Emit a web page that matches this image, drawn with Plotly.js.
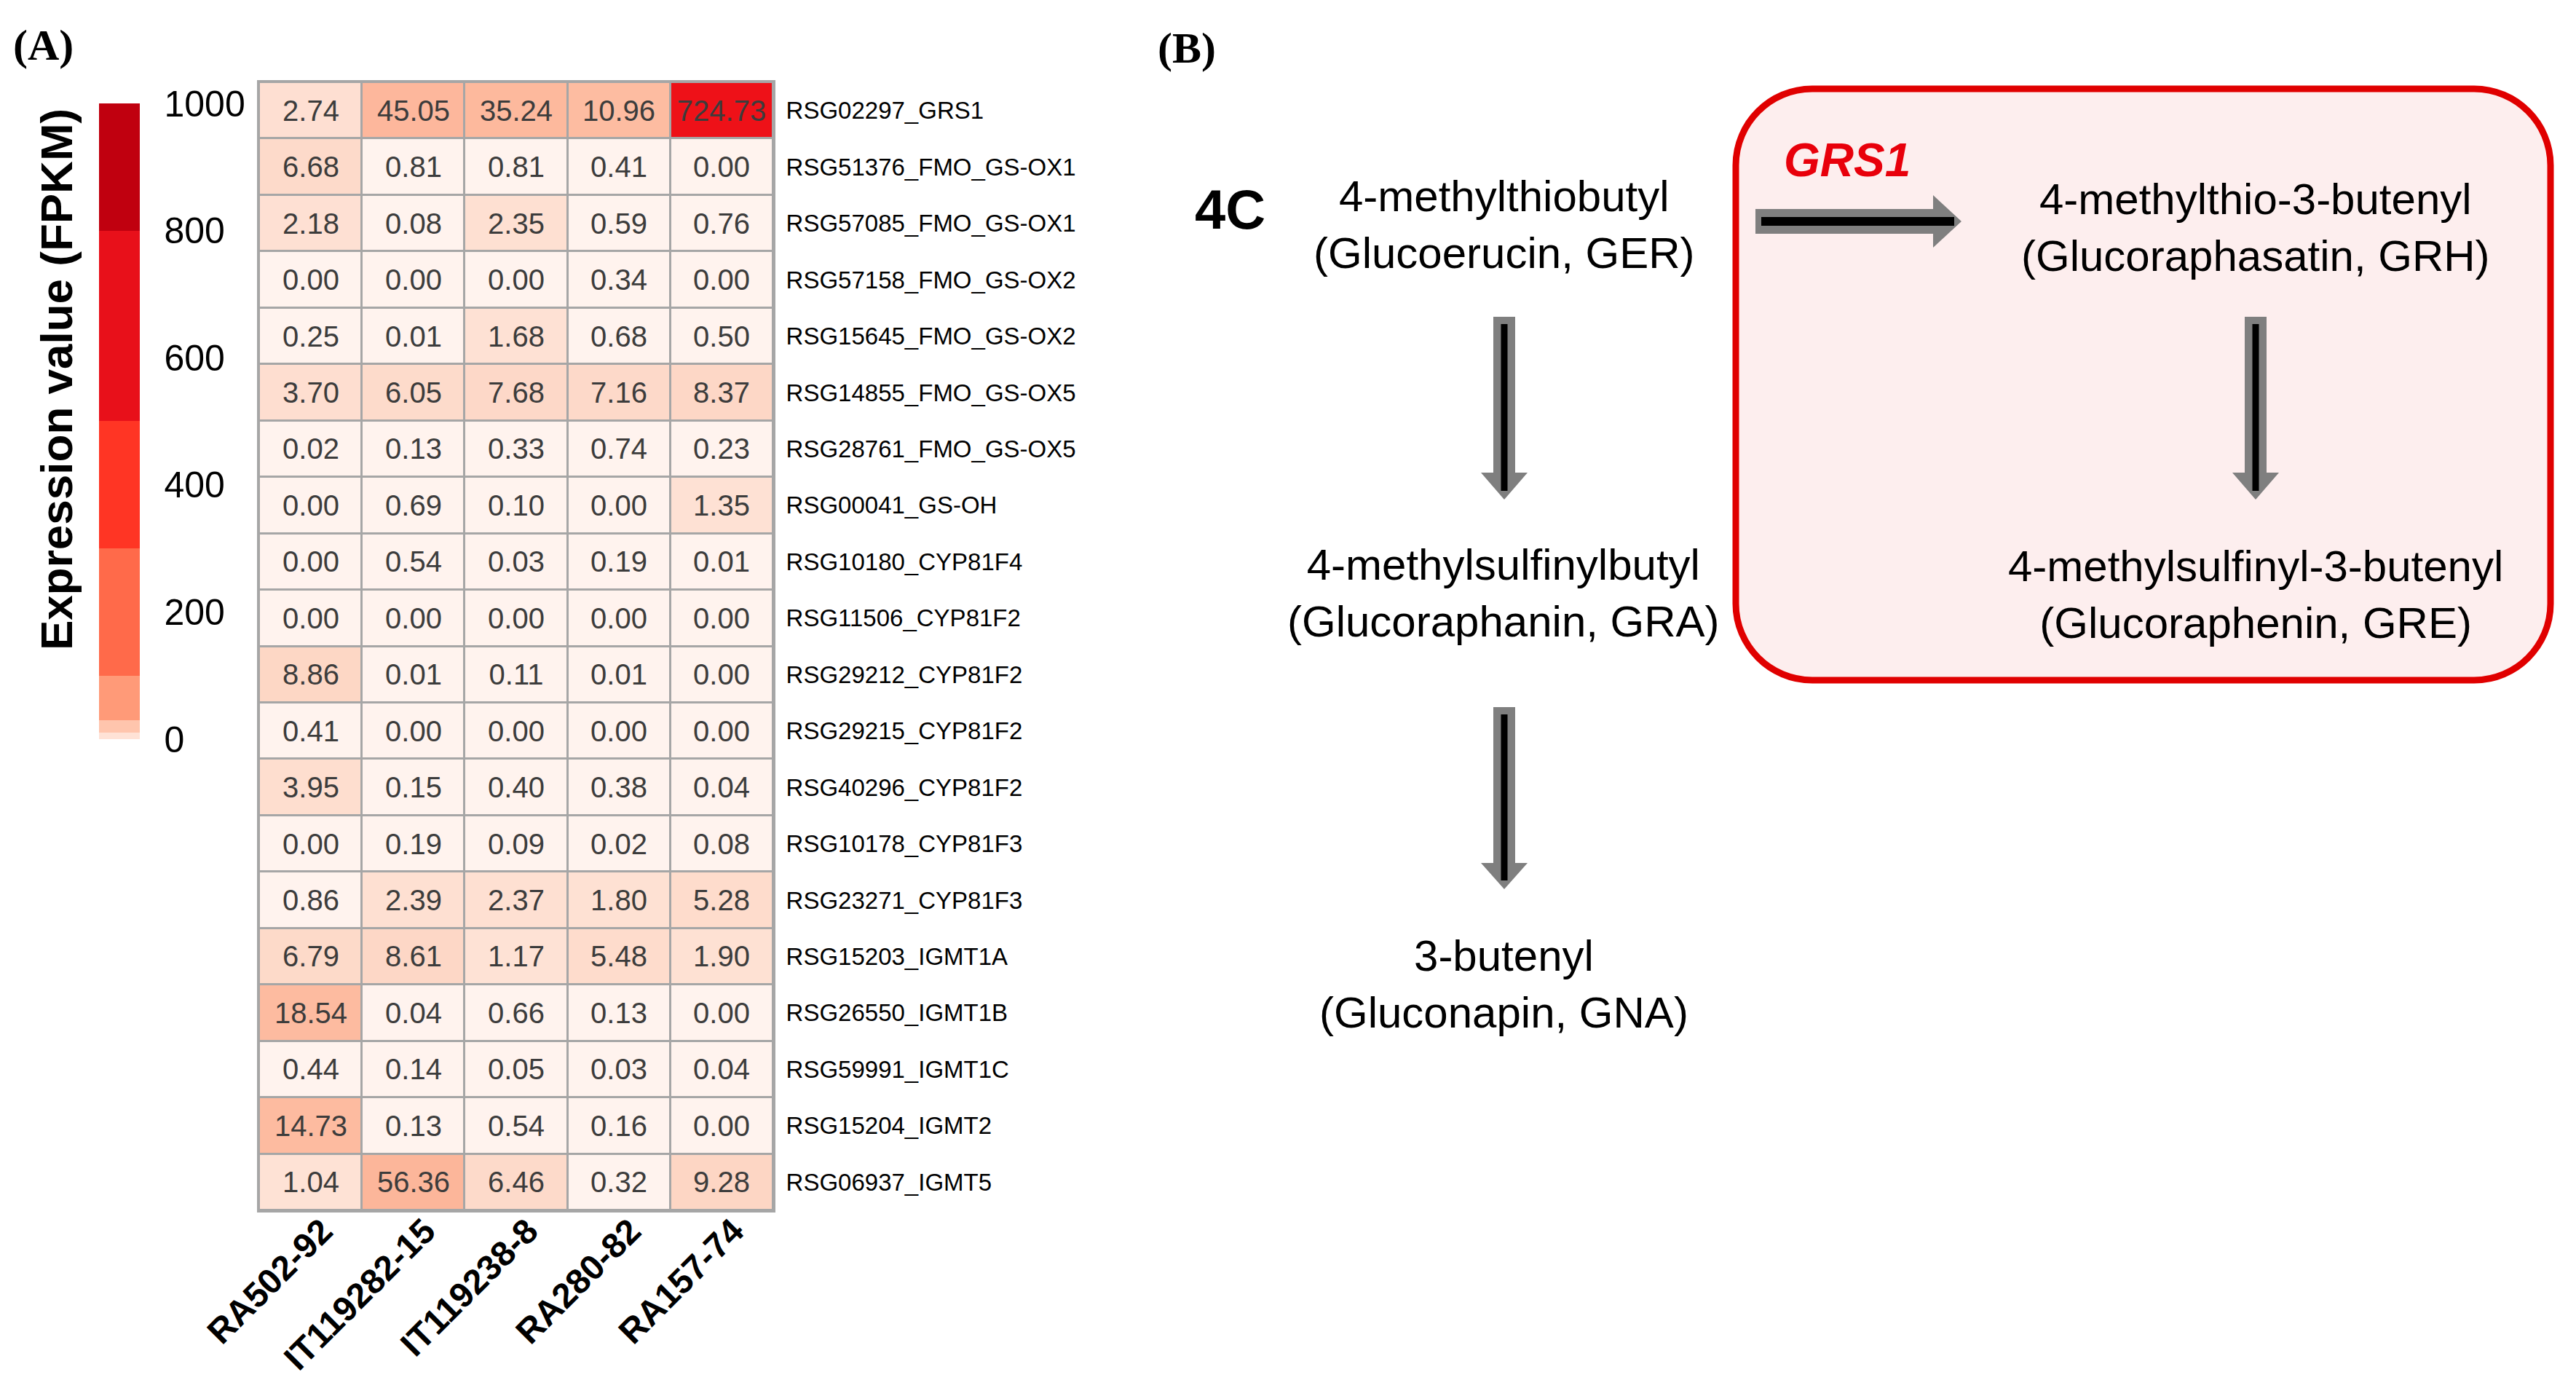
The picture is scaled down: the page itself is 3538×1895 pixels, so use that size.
<!DOCTYPE html>
<html>
<head>
<meta charset="utf-8">
<script src="https://cdn.plot.ly/plotly-3.0.1.min.js"></script>
<style>html,body{margin:0;padding:0;background:#fff;}#chart{width:3538px;height:1895px;}</style>
</head>
<body>
<div id="chart"></div>
<script>
// ---------------- DATA ----------------
const samples = ['RA502-92', 'IT119282-15', 'IT119238-8', 'RA280-82', 'RA157-74'];
const genes = [
  'RSG02297_GRS1', 'RSG51376_FMO_GS-OX1', 'RSG57085_FMO_GS-OX1', 'RSG57158_FMO_GS-OX2',
  'RSG15645_FMO_GS-OX2', 'RSG14855_FMO_GS-OX5', 'RSG28761_FMO_GS-OX5', 'RSG00041_GS-OH',
  'RSG10180_CYP81F4', 'RSG11506_CYP81F2', 'RSG29212_CYP81F2', 'RSG29215_CYP81F2',
  'RSG40296_CYP81F2', 'RSG10178_CYP81F3', 'RSG23271_CYP81F3', 'RSG15203_IGMT1A',
  'RSG26550_IGMT1B', 'RSG59991_IGMT1C', 'RSG15204_IGMT2', 'RSG06937_IGMT5'
];
const fpkm = [
  [2.74, 45.05, 35.24, 10.96, 724.73],
  [6.68, 0.81, 0.81, 0.41, 0.00],
  [2.18, 0.08, 2.35, 0.59, 0.76],
  [0.00, 0.00, 0.00, 0.34, 0.00],
  [0.25, 0.01, 1.68, 0.68, 0.50],
  [3.70, 6.05, 7.68, 7.16, 8.37],
  [0.02, 0.13, 0.33, 0.74, 0.23],
  [0.00, 0.69, 0.10, 0.00, 1.35],
  [0.00, 0.54, 0.03, 0.19, 0.01],
  [0.00, 0.00, 0.00, 0.00, 0.00],
  [8.86, 0.01, 0.11, 0.01, 0.00],
  [0.41, 0.00, 0.00, 0.00, 0.00],
  [3.95, 0.15, 0.40, 0.38, 0.04],
  [0.00, 0.19, 0.09, 0.02, 0.08],
  [0.86, 2.39, 2.37, 1.80, 5.28],
  [6.79, 8.61, 1.17, 5.48, 1.90],
  [18.54, 0.04, 0.66, 0.13, 0.00],
  [0.44, 0.14, 0.05, 0.03, 0.04],
  [14.73, 0.13, 0.54, 0.16, 0.00],
  [1.04, 56.36, 6.46, 0.32, 9.28]
];
const legendRange = [0, 1000];
const legendTicks = [0, 200, 400, 600, 800, 1000];
const legendTitle = 'Expression value (FPKM)';

// Panel B text
const compounds = {
  ger: '4-methylthiobutyl<br>(Glucoerucin, GER)',
  gra: '4-methylsulfinylbutyl<br>(Glucoraphanin, GRA)',
  gna: '3-butenyl<br>(Gluconapin, GNA)',
  grh: '4-methylthio-3-butenyl<br>(Glucoraphasatin, GRH)',
  gre: '4-methylsulfinyl-3-butenyl<br>(Glucoraphenin, GRE)'
};

// ---------------- STYLE / LAYOUT ----------------
const W = 3538, H = 1895;
const X = v => v / W;
const Y = v => 1 - v / H;
const SANS = 'Liberation Sans, Arial, sans-serif';
const SERIF = 'Liberation Serif, Times New Roman, serif';

const cellScale = [
  [0, '#fff3ee'], [0.001, '#fff3ee'],
  [0.001, '#fee2d5'], [0.01, '#fdd5c3'],
  [0.01, '#fdbca1'], [0.1, '#fcb093'],
  [0.1, '#fb6a4a'], [0.3, '#fb6a4a'],
  [0.3, '#f03b2c'], [0.5, '#f03b2c'],
  [0.5, '#ee1118'], [0.8, '#ee1118'],
  [0.8, '#c0000f'], [1, '#c0000f']
];
const legendScale = [
  [0, '#ffe2d6'], [0.01, '#ffe2d6'],
  [0.01, '#ffc5ad'], [0.03, '#ffc5ad'],
  [0.03, '#ff9a78'], [0.1, '#ff9a78'],
  [0.1, '#ff6a4a'], [0.3, '#ff6a4a'],
  [0.3, '#ff3524'], [0.5, '#ff3524'],
  [0.5, '#e8101a'], [0.8, '#e8101a'],
  [0.8, '#c0000f'], [1, '#c0000f']
];

const heat = {
  type: 'heatmap',
  x: samples, y: genes, z: fpkm,
  zmin: legendRange[0], zmax: legendRange[1],
  colorscale: cellScale,
  showscale: false,
  xgap: 3, ygap: 3,
  texttemplate: '%{z:.2f}',
  textfont: {family: SANS, size: 40, color: '#3c3c3c'},
  hoverinfo: 'skip'
};

const legendTrace = {
  type: 'scatter', mode: 'markers',
  x: [samples[0], samples[0]], y: [genes[0], genes[0]],
  hoverinfo: 'skip', showlegend: false,
  marker: {
    color: legendRange, cmin: legendRange[0], cmax: legendRange[1],
    colorscale: legendScale, opacity: 0, size: 1,
    showscale: true,
    colorbar: {
      x: X(136), xanchor: 'left', xpad: 0,
      y: Y(142), yanchor: 'top', ypad: 0,
      len: (1015 - 142) / H, lenmode: 'fraction',
      thickness: 56, thicknessmode: 'pixels',
      outlinewidth: 0,
      tickvals: legendTicks, ticktext: legendTicks.map(String),
      ticks: 'outside', ticklen: 24, tickcolor: 'rgba(0,0,0,0)',
      tickfont: {family: SANS, size: 50, color: '#000'},
      title: {text: ''}
    }
  }
};

function P(pts) { // pixel points -> paper path
  return pts.map((p, i) => (i === 0 ? 'M' : 'L') + X(p[0]).toFixed(6) + ',' + Y(p[1]).toFixed(6)).join(' ') + ' Z';
}
function roundRect(x0, y0, x1, y1, r) {
  const k = 0.5523 * r;
  const f = (x, y) => X(x).toFixed(6) + ',' + Y(y).toFixed(6);
  return 'M' + f(x0 + r, y0) + ' L' + f(x1 - r, y0) +
    ' C' + f(x1 - r + k, y0) + ' ' + f(x1, y0 + r - k) + ' ' + f(x1, y0 + r) +
    ' L' + f(x1, y1 - r) +
    ' C' + f(x1, y1 - r + k) + ' ' + f(x1 - r + k, y1) + ' ' + f(x1 - r, y1) +
    ' L' + f(x0 + r, y1) +
    ' C' + f(x0 + r - k, y1) + ' ' + f(x0, y1 - r + k) + ' ' + f(x0, y1 - r) +
    ' L' + f(x0, y0 + r) +
    ' C' + f(x0, y0 + r - k) + ' ' + f(x0 + r - k, y0) + ' ' + f(x0 + r, y0) + ' Z';
}
function vArrow(cx, top, headStart, tip) {
  const s = 15, h = 32;
  return [
    {type: 'path', xref: 'paper', yref: 'paper', path: P([[cx - s, top], [cx + s, top], [cx + s, headStart], [cx + h, headStart], [cx, tip], [cx - h, headStart], [cx - s, headStart]]), fillcolor: '#7f7f7f', line: {width: 0}},
    {type: 'line', xref: 'paper', yref: 'paper', x0: X(cx), x1: X(cx), y0: Y(top + 10), y1: Y(tip - 12), line: {color: '#000', width: 9}}
  ];
}
function hArrow(left, headStart, tip, cy) {
  const s = 17, h = 36;
  return [
    {type: 'path', xref: 'paper', yref: 'paper', path: P([[left, cy - s], [headStart, cy - s], [headStart, cy - h], [tip, cy], [headStart, cy + h], [headStart, cy + s], [left, cy + s]]), fillcolor: '#7f7f7f', line: {width: 0}},
    {type: 'line', xref: 'paper', yref: 'paper', x0: X(left + 8), x1: X(tip - 10), y0: Y(cy), y1: Y(cy), line: {color: '#000', width: 12}}
  ];
}

const shapes = [
  {type: 'path', xref: 'paper', yref: 'paper', path: roundRect(2384, 122, 3503, 934, 105), fillcolor: '#fdeeee', line: {color: '#e00000', width: 9}, layer: 'below'}
].concat(vArrow(2066, 435, 649, 686))
 .concat(vArrow(2066, 971, 1185, 1221))
 .concat(vArrow(3098, 435, 649, 686))
 .concat(hArrow(2411, 2655, 2694, 304));

function txt(text, x, y, size, extra) {
  return Object.assign({
    text: text, xref: 'paper', yref: 'paper', x: X(x), y: Y(y),
    xanchor: 'center', yanchor: 'middle', showarrow: false,
    font: {family: SANS, size: size, color: '#000'}
  }, extra || {});
}

const annotations = [
  txt('(A)', 60, 62, 60, {font: {family: SERIF, size: 60, color: '#000', weight: 'bold'}}),
  txt('(B)', 1630, 66, 60, {font: {family: SERIF, size: 60, color: '#000', weight: 'bold'}}),
  txt(legendTitle, 77, 521, 62, {textangle: -90, font: {family: SANS, size: 62, color: '#000', weight: 'bold'}}),
  txt('4C', 1689, 288, 76, {font: {family: SANS, size: 76, color: '#000', weight: 'bold'}}),
  txt('GRS1', 2537, 220, 64, {font: {family: SANS, size: 64, color: '#e8000b', weight: 'bold', style: 'italic'}}),
  txt(compounds.ger, 2065, 308, 60),
  txt(compounds.gra, 2065, 815, 60),
  txt(compounds.gna, 2065, 1351, 60),
  txt(compounds.grh, 3098, 312, 60),
  txt(compounds.gre, 3098, 817, 60)
];

const layout = {
  width: W, height: H,
  margin: {l: 0, r: 0, t: 0, b: 0, pad: 0},
  paper_bgcolor: '#ffffff',
  plot_bgcolor: '#a6a6a6',
  showlegend: false,
  xaxis: {
    domain: [X(356), X(1062)], type: 'category',
    range: [-0.5, samples.length - 0.5], autorange: false,
    tickangle: -45, ticks: '', ticklabelstandoff: -22, ticklabelshift: 16,
    tickfont: {family: SANS, size: 48, color: '#000', weight: 'bold'},
    showgrid: false, zeroline: false, automargin: false,
    showline: true, mirror: true, linecolor: '#a6a6a6', linewidth: 3,
    fixedrange: true
  },
  yaxis: {
    domain: [Y(1662), Y(113)], type: 'category',
    range: [genes.length - 0.5, -0.5], autorange: false,
    side: 'right', ticks: '', ticklabelstandoff: 8,
    tickfont: {family: SANS, size: 33, color: '#000'},
    showgrid: false, zeroline: false, automargin: false,
    showline: true, mirror: true, linecolor: '#a6a6a6', linewidth: 3,
    fixedrange: true
  },
  shapes: shapes,
  annotations: annotations
};

Plotly.newPlot('chart', [heat, legendTrace], layout, {displayModeBar: false, staticPlot: true});
</script>
</body>
</html>
